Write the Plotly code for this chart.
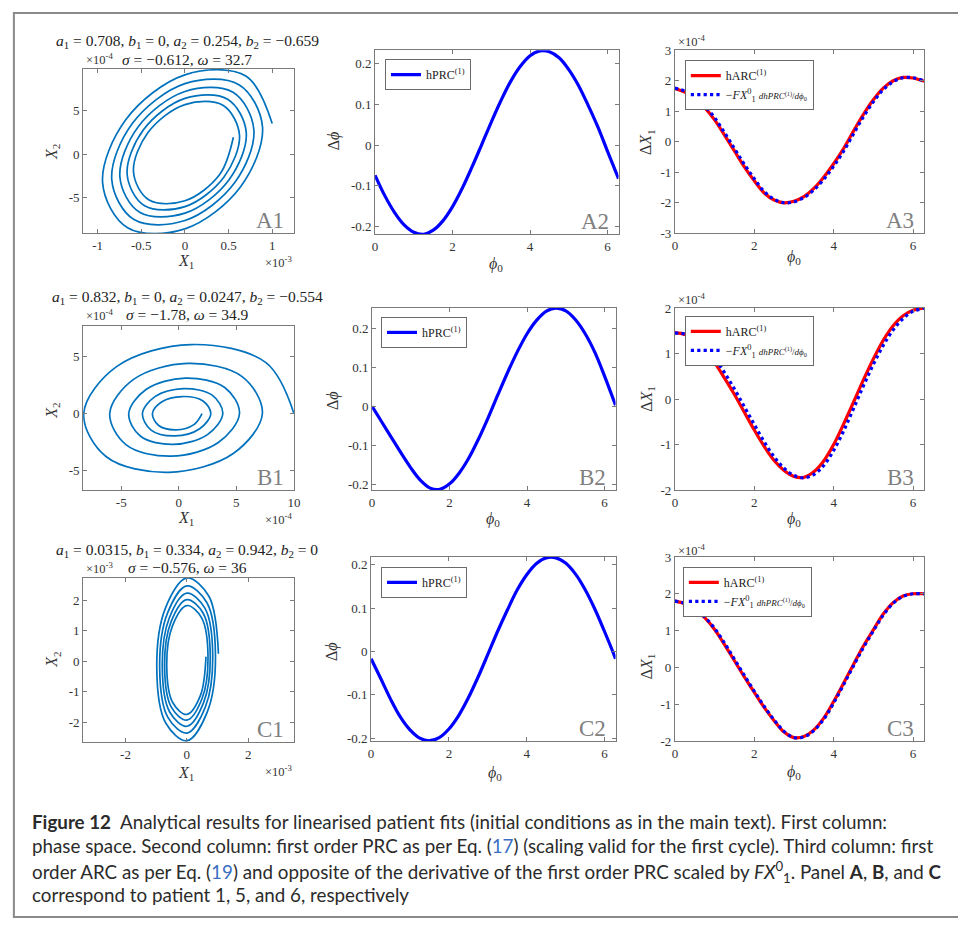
import plotly.graph_objects as go

W, H = 958, 928
SERIF = "Liberation Serif, Times New Roman, serif"
SANS = "Lato, Liberation Sans, sans-serif"
MBLUE = "#0072BD"
AXC = "#7a7a7a"
TXT = "#333333"

# ---------------- data ----------------
PHI = [0.0, 0.25, 0.5, 0.75, 1.0, 1.25, 1.5, 1.75, 2.0, 2.25, 2.5, 2.75, 3.0, 3.25,
       3.5, 3.75, 4.0, 4.25, 4.5, 4.75, 5.0, 5.25, 5.5, 5.75, 6.0, 6.25, 6.2832]

A2_PRC = [-0.074, -0.124, -0.165, -0.196, -0.214, -0.219, -0.209, -0.186, -0.151, -0.106, -0.054,
          0.001, 0.057, 0.110, 0.157, 0.194, 0.220, 0.232, 0.230, 0.215, 0.186, 0.147, 0.098,
          0.045, -0.015, -0.074, -0.082]
B2_PRC = [0.000, -0.040, -0.080, -0.120, -0.158, -0.190, -0.210, -0.213, -0.199, -0.171, -0.132,
          -0.083, -0.028, 0.031, 0.088, 0.141, 0.187, 0.222, 0.245, 0.253, 0.246, 0.223, 0.187,
          0.139, 0.078, 0.012, 0.003]
C2_PRC = [-0.017, -0.063, -0.110, -0.151, -0.181, -0.200, -0.206, -0.199, -0.179, -0.148, -0.107,
          -0.059, -0.007, 0.046, 0.095, 0.141, 0.177, 0.203, 0.216, 0.216, 0.204, 0.179, 0.143,
          0.098, 0.046, -0.009, -0.017]

A3_ARC = [1.75, 1.63, 1.42, 1.12, 0.72, 0.22, -0.30, -0.82, -1.28, -1.68, -1.91, -2.00, -1.95,
          -1.80, -1.53, -1.16, -0.72, -0.22, 0.35, 0.90, 1.38, 1.76, 2.00, 2.11, 2.09, 2.00, 1.99]
A3_DER = [1.76, 1.66, 1.46, 1.18, 0.79, 0.30, -0.22, -0.74, -1.21, -1.63, -1.88, -2.00, -1.97,
          -1.83, -1.58, -1.23, -0.80, -0.31, 0.26, 0.82, 1.31, 1.71, 1.97, 2.10, 2.10, 2.01, 2.00]
B3_ARC = [1.46, 1.42, 1.30, 1.08, 0.80, 0.46, 0.10, -0.29, -0.68, -1.04, -1.35, -1.57, -1.70,
          -1.72, -1.60, -1.36, -1.00, -0.55, -0.07, 0.42, 0.88, 1.29, 1.61, 1.83, 1.95, 2.00, 2.00]
B3_DER = [1.45, 1.43, 1.34, 1.15, 0.90, 0.58, 0.22, -0.17, -0.56, -0.94, -1.27, -1.52, -1.68,
          -1.73, -1.66, -1.46, -1.13, -0.70, -0.21, 0.29, 0.76, 1.18, 1.52, 1.77, 1.93, 1.99, 2.00]
C3_ARC = [1.80, 1.73, 1.58, 1.35, 1.03, 0.62, 0.18, -0.26, -0.68, -1.09, -1.45, -1.76, -1.91,
          -1.88, -1.70, -1.38, -0.93, -0.43, 0.08, 0.58, 1.02, 1.45, 1.76, 1.94, 2.00, 2.00, 2.00]
C3_DER = [1.80, 1.74, 1.60, 1.37, 1.06, 0.66, 0.22, -0.22, -0.65, -1.06, -1.43, -1.74, -1.91,
          -1.89, -1.72, -1.41, -0.97, -0.47, 0.04, 0.54, 0.99, 1.42, 1.74, 1.93, 2.00, 2.00, 2.00]

# phase-space spirals (X1 in units of the x exponent, X2 in units of the y exponent)
A1_X = [1.000, 0.697, 0, -0.676, -0.943, -0.657, 0, 0.638, 0.889, 0.619, 0, -0.601, -0.838,
        -0.584, 0, 0.567, 0.790, 0.551, 0, -0.535, -0.745, -0.519, 0, 0.504, 0.703, 0.489, 0,
        -0.475, -0.662, -0.462, 0, 0.448, 0.625, 0.435, 0, -0.423, -0.589, -0.410, 0, 0.398, 0.555]
A1_Y = [3.50, 8.97, 9.10, 3.97, -3.30, -8.45, -8.58, -3.74, 3.11, 7.97, 8.09, 3.53, -2.93,
        -7.52, -7.63, -3.33, 2.77, 7.09, 7.19, 3.14, -2.61, -6.68, -6.78, -2.96, 2.46, 6.30, 6.39,
        2.79, -2.32, -5.94, -6.03, -2.63, 2.19, 5.60, 5.68, 2.48, -2.06, -5.28, -5.36, -2.34, 1.94]
B1_X = [10.00, 7.57, 1.06, -5.41, -8.26, -6.30, -0.90, 4.73, 7.26, 5.50, 0.77, -3.93, -6.00,
        -4.57, -0.66, 3.43, 5.27, 3.99, 0.56, -2.85, -4.35, -3.32, -0.48, 2.49, 3.82, 2.90, 0.41,
        -2.07, -3.16, -2.41, -0.35, 1.81, 2.78, 2.10, 0.29, -1.50, -2.29, -1.75, -0.25, 1.31, 2.02]
B1_Y = [0, 4.49, 6.09, 4.14, 0, -3.82, -5.19, -3.53, 0, 3.26, 4.42, 3.01, 0, -2.77, -3.77, -2.56,
        0, 2.30, 3.13, 2.12, 0, -2.01, -2.73, -1.86, 0, 1.62, 2.20, 1.49, 0, -1.46, -1.98, -1.35,
        0, 1.11, 1.50, 1.02, 0, -1.06, -1.44, -0.98, 0]
C1_X = [1.030, 0.719, 0, -0.701, -0.980, -0.684, 0, 0.667, 0.932, 0.650, 0, -0.634, -0.886,
        -0.618, 0, 0.603, 0.843, 0.588, 0, -0.573, -0.801, -0.559, 0, 0.545, 0.762, 0.532, 0,
        -0.519, -0.725, -0.506, 0, 0.493, 0.689, 0.481, 0, -0.469, -0.655, -0.457, 0, 0.446, 0.623]
C1_Y = [0.250, 2.133, 2.734, 1.739, -0.238, -2.028, -2.600, -1.654, 0.226, 1.929, 2.473, 1.573,
        -0.215, -1.835, -2.352, -1.496, 0.205, 1.745, 2.237, 1.423, -0.194, -1.659, -2.127, -1.353,
        0.185, 1.578, 2.023, 1.287, -0.176, -1.501, -1.924, -1.224, 0.167, 1.427, 1.830, 1.164,
        -0.159, -1.357, -1.740, -1.107, 0.151]

# tick labels
A1_XT = [-1, -0.5, 0, 0.5, 1]
A1_XL = ["-1", "-0.5", "0", "0.5", "1"]
B1_XT = [-5, 0, 5, 10]
B1_XL = ["-5", "0", "5", "10"]
C1_XT = [-2, 0, 2]
C1_XL = ["-2", "0", "2"]
AB1_YT = [-5, 0, 5]
AB1_YL = ["-5", "0", "5"]
C1_YT = [-2, -1, 0, 1, 2]
C1_YL = ["-2", "-1", "0", "1", "2"]
PHI_T = [0, 2, 4, 6]
PHI_L = ["0", "2", "4", "6"]
PRC_T = [-0.2, -0.1, 0, 0.1, 0.2]
PRC_L = ["-0.2", "-0.1", "0", "0.1", "0.2"]
A3_T = [-3, -2, -1, 0, 1, 2, 3]
B3_T = [-2, -1, 0, 1, 2]
C3_T = [-2, -1, 0, 1, 2, 3]

TITLES = [
    ("<i>a</i><sub>1</sub> = 0.708, <i>b</i><sub>1</sub> = 0, <i>a</i><sub>2</sub> = 0.254, <i>b</i><sub>2</sub> = −0.659",
     "<i>σ</i> = −0.612, <i>ω</i> = 32.7"),
    ("<i>a</i><sub>1</sub> = 0.832, <i>b</i><sub>1</sub> = 0, <i>a</i><sub>2</sub> = 0.0247, <i>b</i><sub>2</sub> = −0.554",
     "<i>σ</i> = −1.78, <i>ω</i> = 34.9"),
    ("<i>a</i><sub>1</sub> = 0.0315, <i>b</i><sub>1</sub> = 0.334, <i>a</i><sub>2</sub> = 0.942, <i>b</i><sub>2</sub> = 0",
     "<i>σ</i> = −0.576, <i>ω</i> = 36"),
]

# ---------------- layout geometry (pixels) ----------------
def fx(p):
    return p / W


def fy(p):
    return 1 - p / H


PANELS = [
    # name, x px, y px, xrange, yrange, xt, xl, yt, yl
    ("A1", (81, 294), (63, 230), (-1.166, 1.249), (-9.09, 9.77), A1_XT, A1_XL, AB1_YT, AB1_YL),
    ("A2", (376, 622), (44, 231), (0, 6.2832), (-0.219, 0.2334), PHI_T, PHI_L, PRC_T, PRC_L),
    ("A3", (679, 931), (44, 230), (0, 6.2832), (-3, 3), PHI_T, PHI_L, A3_T, [str(v) for v in A3_T]),
    ("B1", (81, 294), (324, 491), (-8.31, 10.0), (-6.76, 7.75), B1_XT, B1_XL, AB1_YT, AB1_YL),
    ("B2", (373, 619), (306, 491), (0, 6.2832), (-0.215, 0.253), PHI_T, PHI_L, PRC_T, PRC_L),
    ("B3", (679, 931), (306, 491), (0, 6.2832), (-2, 2), PHI_T, PHI_L, B3_T, [str(v) for v in B3_T]),
    ("C1", (81, 294), (580, 747), (-3.38, 3.49), (-2.64, 2.745), C1_XT, C1_XL, C1_YT, C1_YL),
    ("C2", (372, 619), (559, 746), (0, 6.2832), (-0.2065, 0.218), PHI_T, PHI_L, PRC_T, PRC_L),
    ("C3", (679, 931), (559, 746), (0, 6.2832), (-2, 3), PHI_T, PHI_L, C3_T, [str(v) for v in C3_T]),
]

fig = go.Figure()
layout = dict(
    width=W, height=H, margin=dict(l=0, r=0, t=0, b=0),
    paper_bgcolor="white", plot_bgcolor="white", showlegend=True,
)

for i, (name, xp, yp, xr, yr, xt, xl, yt, yl) in enumerate(PANELS):
    n = i + 1
    xa = "xaxis" if n == 1 else f"xaxis{n}"
    ya = "yaxis" if n == 1 else f"yaxis{n}"
    common = dict(showline=True, linecolor=AXC, linewidth=1, mirror="ticks", ticks="inside",
                  ticklen=4, tickcolor=AXC, tickwidth=1, showgrid=False, zeroline=False,
                  tickfont=dict(family=SERIF, size=13, color=TXT), fixedrange=True)
    layout[xa] = dict(domain=[fx(xp[0]), fx(xp[1])], range=list(xr), tickvals=xt, ticktext=xl,
                      anchor=f"y{n}" if n > 1 else "y", **common)
    layout[ya] = dict(domain=[fy(yp[1]), fy(yp[0])], range=list(yr), tickvals=yt, ticktext=yl,
                      anchor=f"x{n}" if n > 1 else "x", **common)

AX = {p[0]: (("x" if i == 0 else f"x{i+1}"), ("y" if i == 0 else f"y{i+1}")) for i, p in enumerate(PANELS)}

# spirals
for name, X, Y in (("A1", A1_X, A1_Y), ("B1", B1_X, B1_Y), ("C1", C1_X, C1_Y)):
    xa, ya = AX[name]
    fig.add_trace(go.Scatter(x=X, y=Y, mode="lines", xaxis=xa, yaxis=ya, showlegend=False,
                             line=dict(color=MBLUE, width=1.7, shape="spline", smoothing=1.0),
                             hoverinfo="skip"))

# PRC panels
prc_leg = {"A2": "legend", "B2": "legend3", "C2": "legend5"}
for name, Y in (("A2", A2_PRC), ("B2", B2_PRC), ("C2", C2_PRC)):
    xa, ya = AX[name]
    fig.add_trace(go.Scatter(x=PHI, y=Y, mode="lines", xaxis=xa, yaxis=ya, name="hPRC<sup>(1)</sup>",
                             legend=prc_leg[name],
                             line=dict(color="#0000FF", width=3.2, shape="spline")))

# ARC panels
arc_leg = {"A3": "legend2", "B3": "legend4", "C3": "legend6"}
DER_NAME = ("−<i>FX</i><sup>0</sup><sub>1</sub> <span style='font-size:9px'><i>dhPRC</i><sup>(1)</sup>"
            "/<i>dϕ</i><sub>0</sub></span>")
for name, Y1, Y2 in (("A3", A3_ARC, A3_DER), ("B3", B3_ARC, B3_DER), ("C3", C3_ARC, C3_DER)):
    xa, ya = AX[name]
    fig.add_trace(go.Scatter(x=PHI, y=Y1, mode="lines", xaxis=xa, yaxis=ya, name="hARC<sup>(1)</sup>",
                             legend=arc_leg[name],
                             line=dict(color="#FF0000", width=3.2, shape="spline")))
    fig.add_trace(go.Scatter(x=PHI, y=Y2, mode="lines", xaxis=xa, yaxis=ya, name=DER_NAME,
                             legend=arc_leg[name],
                             line=dict(color="#0000FF", width=3.2, dash="dot", shape="spline")))

leg_common = dict(xanchor="left", yanchor="top", bgcolor="white", bordercolor="#6a6a6a",
                  borderwidth=1, font=dict(family=SERIF, size=12, color="#222"),
                  tracegroupgap=0, itemclick=False, itemdoubleclick=False)
LEG_POS = {"legend": (386, 53), "legend2": (689, 54), "legend3": (382, 315),
           "legend4": (689, 314), "legend5": (382, 569), "legend6": (687, 569)}
for k, (lx, ly) in LEG_POS.items():
    layout[k] = dict(x=fx(lx), y=fy(ly), **leg_common)

ann = []


def add_text(text, x, y, size=13, xanchor="center", yanchor="middle", color=TXT, family=SERIF, angle=0):
    ann.append(dict(text=text, x=fx(x), y=fy(y), xref="paper", yref="paper", showarrow=False,
                    xanchor=xanchor, yanchor=yanchor, textangle=angle,
                    font=dict(family=family, size=size, color=color)))


# titles of phase-space panels
for (l1, l2), (y1, y2) in zip(TITLES, ((35, 53), (295, 313), (552, 570))):
    add_text(l1, 186, y1, size=15.5, color="#222")
    add_text(l2, 186, y2, size=15.5, color="#222")

# exponent labels
EXP4 = "×10<sup>-4</sup>"
EXP3 = "×10<sup>-3</sup>"
for t, x, y in ((EXP4, 82, 53), (EXP4, 82, 313), (EXP3, 82, 570),
                (EXP4, 680, 35), (EXP4, 680, 297), (EXP4, 680, 552)):
    add_text(t, x, y, size=12.5, xanchor="left")
for t, y in ((EXP3, 259), (EXP4, 520), (EXP3, 777)):
    add_text(t, 294, y, size=12.5, xanchor="right")

# axis titles
X1T = "<i>X</i><sub>1</sub>"
X2T = "<i>X</i><sub>2</sub>"
PHT = "<i>ϕ</i><sub>0</sub>"
DPT = "Δ<i>ϕ</i>"
DXT = "Δ<i>X</i><sub>1</sub>"
for y in (259, 520, 779):
    add_text(X1T, 185, y, size=16)
for y in (147, 410, 663):
    add_text(X2T, 50, y, size=16, angle=-90)
for x, y in ((498, 262), (495, 521), (497, 779)):
    add_text(PHT, x, y, size=16)
for x, y in ((334, 136), (333, 400), (333, 655)):
    add_text(DPT, x, y, size=16, angle=-90)
for y in (137, 398, 670):
    add_text(DXT, 651, y, size=16, angle=-90)
for y in (255, 521, 778):
    add_text(PHT, 799, y, size=16)

# panel letters
for name, xp, yp, *_ in PANELS:
    add_text(name, xp[1] - 8, yp[1] + 2, size=23, xanchor="right", yanchor="bottom", color="#7f7f7f")

# caption
LINK = "#3a6fc4"
CAP = [
    "<b>Figure 12</b>\u00a0\u00a0Analytical results for linearised patient fits (initial conditions as in the main text). First column:",
    f"phase space. Second column: first order PRC as per Eq. (<span style='color:{LINK}'>17</span>) (scaling valid for the first cycle). Third column: first",
    f"order ARC as per Eq. (<span style='color:{LINK}'>19</span>) and opposite of the derivative of the first order PRC scaled by <i>FX</i><sup>0</sup><sub>1</sub>. Panel <b>A</b>, <b>B</b>, and <b>C</b>",
    "correspond to patient 1, 5, and 6, respectively",
]
for t, y in zip(CAP, (828, 852, 879, 902)):
    add_text(t, 27, y, size=18.8, xanchor="left", family=SANS, color="#2b2b2b")

layout["annotations"] = ann
layout["shapes"] = [dict(type="rect", xref="paper", yref="paper", x0=fx(11), x1=1.02,
                         y0=fy(925), y1=fy(6), line=dict(color="#8a8a8a", width=2),
                         fillcolor="rgba(0,0,0,0)", layer="below")]
fig.update_layout(**layout)
fig.write_html("out.html", config={"displayModeBar": False},
               post_script="document.body.style.margin='0';document.body.style.overflow='hidden';")
